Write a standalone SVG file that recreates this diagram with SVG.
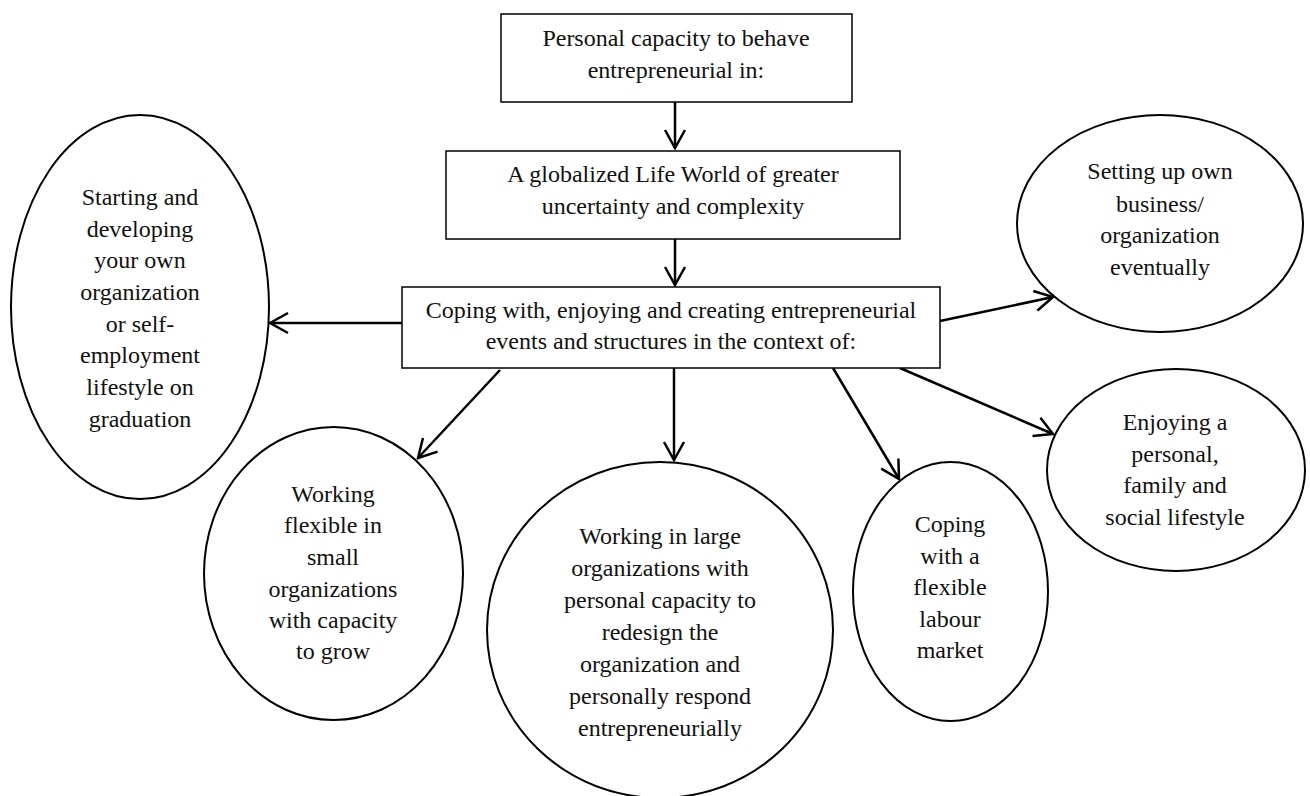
<svg xmlns="http://www.w3.org/2000/svg" width="1310" height="796" viewBox="0 0 1310 796">
<style>
.box{fill:#fff;stroke:#000;stroke-width:1.5}
.ell{fill:#fff;stroke:#000;stroke-width:2}
.t{font-family:"Liberation Serif","Times New Roman",serif;font-size:24px;fill:#111;text-anchor:middle}
.c{stroke:#000;stroke-width:2.5;fill:none}
</style>
<defs>
<marker id="ah" viewBox="-22 -12 24 24" markerWidth="24" markerHeight="24" refX="0" refY="0" orient="auto" markerUnits="userSpaceOnUse">
<path d="M-18,-10 L0,0 L-18,10" fill="none" stroke="#000" stroke-width="2.5" stroke-linejoin="miter"/>
</marker>
</defs>
<rect width="1310" height="796" fill="#fff"/>
<g id="connectors">
<line class="c" x1="675" y1="102" x2="675" y2="148" marker-end="url(#ah)"/>
<line class="c" x1="675" y1="239" x2="675" y2="285" marker-end="url(#ah)"/>
<line class="c" x1="402" y1="323" x2="270" y2="323" marker-end="url(#ah)"/>
<line class="c" x1="940" y1="321" x2="1053" y2="297" marker-end="url(#ah)"/>
<line class="c" x1="900" y1="368" x2="1053" y2="434" marker-end="url(#ah)"/>
<line class="c" x1="833" y1="368" x2="899" y2="479" marker-end="url(#ah)"/>
<line class="c" x1="674" y1="368" x2="674" y2="460" marker-end="url(#ah)"/>
<line class="c" x1="500" y1="370" x2="418" y2="458" marker-end="url(#ah)"/>
</g>
<g id="n1">
<rect class="box" x="501" y="14" width="351" height="88"/>
<text class="t" x="676" y="46">Personal capacity to behave</text>
<text class="t" x="676" y="78">entrepreneurial in:</text>
</g>
<g id="n2">
<rect class="box" x="446" y="151" width="454" height="88"/>
<text class="t" x="673" y="182">A globalized Life World of greater</text>
<text class="t" x="673" y="214">uncertainty and complexity</text>
</g>
<g id="n3">
<rect class="box" x="402" y="287" width="538" height="81"/>
<text class="t" x="671" y="318">Coping with, enjoying and creating entrepreneurial</text>
<text class="t" x="671" y="349">events and structures in the context of:</text>
</g>
<g id="n4">
<ellipse class="ell" cx="140" cy="307" rx="129" ry="192"/>
<text class="t" x="140" y="205">Starting and</text>
<text class="t" x="140" y="237">developing</text>
<text class="t" x="140" y="268">your own</text>
<text class="t" x="140" y="300">organization</text>
<text class="t" x="140" y="332">or self-</text>
<text class="t" x="140" y="363">employment</text>
<text class="t" x="140" y="395">lifestyle on</text>
<text class="t" x="140" y="427">graduation</text>
</g>
<g id="n5">
<ellipse class="ell" cx="1160" cy="223.5" rx="143" ry="108.5"/>
<text class="t" x="1160" y="179">Setting up own</text>
<text class="t" x="1160" y="212">business/</text>
<text class="t" x="1160" y="243">organization</text>
<text class="t" x="1160" y="275">eventually</text>
</g>
<g id="n6">
<ellipse class="ell" cx="1176" cy="470" rx="129" ry="101"/>
<text class="t" x="1175" y="430">Enjoying a</text>
<text class="t" x="1175" y="462">personal,</text>
<text class="t" x="1175" y="493">family and</text>
<text class="t" x="1175" y="525">social lifestyle</text>
</g>
<g id="n7">
<ellipse class="ell" cx="333.5" cy="573.5" rx="129.5" ry="146.5"/>
<text class="t" x="333" y="502">Working</text>
<text class="t" x="333" y="533">flexible in</text>
<text class="t" x="333" y="565">small</text>
<text class="t" x="333" y="597">organizations</text>
<text class="t" x="333" y="628">with capacity</text>
<text class="t" x="333" y="659">to grow</text>
</g>
<g id="n8">
<ellipse class="ell" cx="660" cy="630" rx="173" ry="168"/>
<text class="t" x="660" y="544">Working in large</text>
<text class="t" x="660" y="576">organizations with</text>
<text class="t" x="660" y="608">personal capacity to</text>
<text class="t" x="660" y="640">redesign the</text>
<text class="t" x="660" y="672">organization and</text>
<text class="t" x="660" y="704">personally respond</text>
<text class="t" x="660" y="736">entrepreneurially</text>
</g>
<g id="n9">
<ellipse class="ell" cx="950.5" cy="591.5" rx="97.5" ry="129.5"/>
<text class="t" x="950" y="532">Coping</text>
<text class="t" x="950" y="564">with a</text>
<text class="t" x="950" y="595">flexible</text>
<text class="t" x="950" y="627">labour</text>
<text class="t" x="950" y="658">market</text>
</g>
</svg>
